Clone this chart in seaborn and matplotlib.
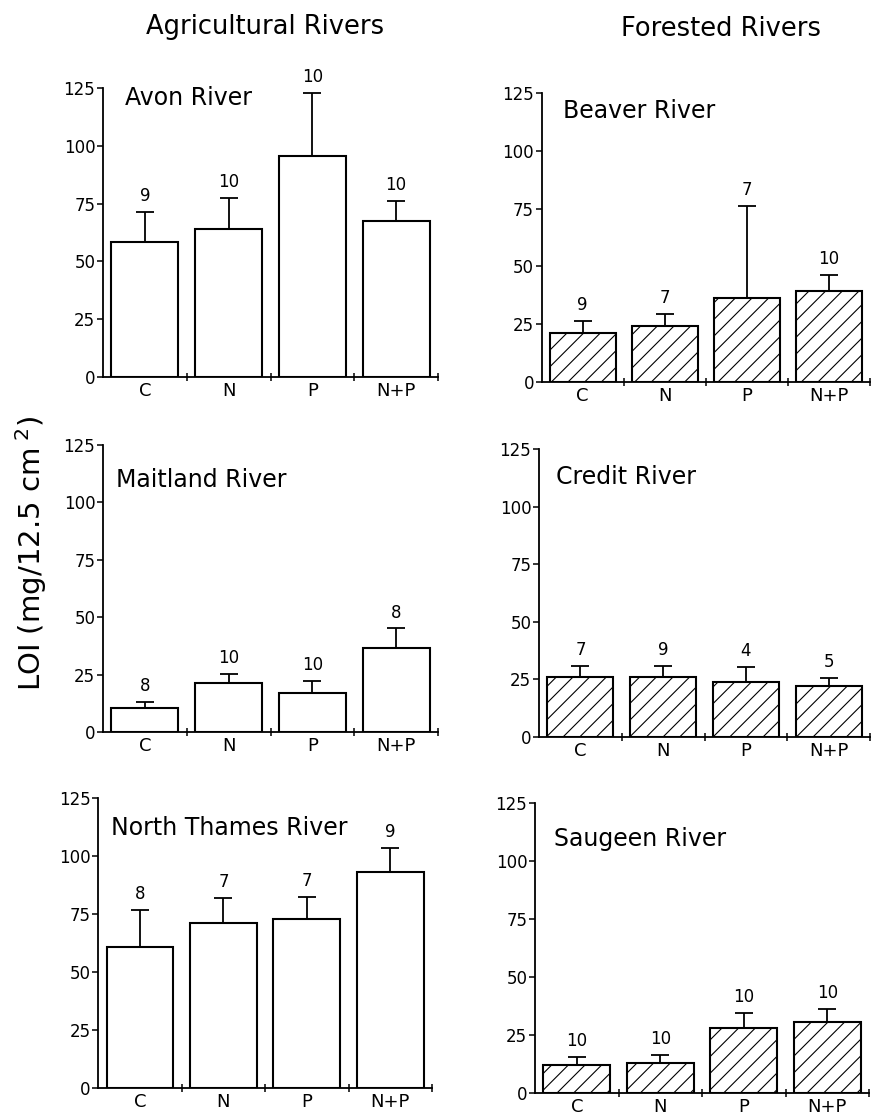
import matplotlib
matplotlib.use("Agg")
import matplotlib.pyplot as plt
import seaborn as sns
import numpy as np
import pandas as pd

# ---------------- data ----------------
treatments = ["C", "N", "P", "N+P"]
rivers = ["Avon River", "Beaver River", "Maitland River",
          "Credit River", "North Thames River", "Saugeen River"]
forested = [False, True, False, True, False, True]

avon_mean = [58.5, 63.9, 95.6, 67.6]
avon_err = [13.0, 13.4, 27.1, 8.7]
avon_n = [9, 10, 10, 10]

beaver_mean = [21.2, 24.3, 36.4, 39.4]
beaver_err = [5.2, 5.0, 39.8, 6.8]
beaver_n = [9, 7, 7, 10]

maitland_mean = [10.3, 21.2, 17.1, 36.7]
maitland_err = [2.9, 4.0, 5.2, 8.4]
maitland_n = [8, 10, 10, 8]

credit_mean = [26.2, 26.0, 24.0, 22.2]
credit_err = [4.7, 4.9, 6.3, 3.6]
credit_n = [7, 9, 4, 5]

nthames_mean = [60.8, 71.1, 73.0, 93.4]
nthames_err = [16.1, 10.8, 9.3, 10.0]
nthames_n = [8, 7, 7, 9]

saugeen_mean = [12.2, 12.9, 28.0, 30.9]
saugeen_err = [3.3, 3.6, 6.5, 5.6]
saugeen_n = [10, 10, 10, 10]

means = [avon_mean, beaver_mean, maitland_mean, credit_mean, nthames_mean, saugeen_mean]
errs = [avon_err, beaver_err, maitland_err, credit_err, nthames_err, saugeen_err]
ns = [avon_n, beaver_n, maitland_n, credit_n, nthames_n, saugeen_n]

yticks = [0, 25, 50, 75, 100, 125]

# ---------------- style ----------------
sns.set_theme(style="ticks")
plt.rcParams['font.family'] = ['DejaVu Sans']
plt.rcParams['hatch.linewidth'] = 0.8
plt.rcParams['hatch.color'] = 'black'

W, H = 872, 1115
fig = plt.figure(figsize=(W / 100, H / 100), dpi=100)
fig.patch.set_facecolor('white')

# axes boxes in pixels: left, right, top, bottom
boxes = [
    (103, 438, 88, 377),
    (541.7, 870, 93.3, 381.7),
    (103, 438, 445, 732),
    (539, 870, 449.3, 737),
    (98.3, 432, 798.3, 1088.3),
    (535, 869, 803.3, 1093.3),
]
title_pos = [(0.066, 0.965), (0.065, 0.939), (0.039, 0.878),
             (0.051, 0.905), (0.037, 0.899), (0.057, 0.877)]

for i, river in enumerate(rivers):
    l, r, t, b = boxes[i]
    ax = fig.add_axes([l / W, 1 - b / H, (r - l) / W, (b - t) / H])
    df = pd.DataFrame({"Treatment": treatments, "LOI": means[i]})
    kw = dict(hatch='//') if forested[i] else {}
    sns.barplot(data=df, x="Treatment", y="LOI", order=treatments,
                color='white', edgecolor='black', linewidth=1.5,
                saturation=1, errorbar=None, width=0.8, ax=ax, **kw)
    for p in ax.patches:
        p.set_facecolor('white')
        p.set_edgecolor('black')
    xs = np.arange(len(treatments))
    ax.errorbar(xs, means[i], yerr=[np.zeros(len(xs)), errs[i]], fmt='none',
                ecolor='black', elinewidth=1.3, capsize=6.5, capthick=1.3, zorder=1)
    for x, m, e, n in zip(xs, means[i], errs[i], ns[i]):
        ax.annotate(str(n), (x, m + e), xytext=(0, 5), textcoords='offset points',
                    ha='center', va='bottom', fontsize=12, color='black',
                    annotation_clip=False)
    ax.set_ylim(0, 125)
    ax.set_xlim(-0.5, 3.5)
    ax.set_yticks(yticks)
    ax.set_yticklabels([str(v) for v in yticks], fontsize=12, color='black')
    ax.set_xticks(xs)
    ax.set_xticklabels(treatments, fontsize=13, color='black')
    ax.set_xticks([0.5, 1.5, 2.5, 3.5], minor=True)
    ax.tick_params(axis='x', which='major', length=0, pad=3.5)
    ax.tick_params(axis='x', which='minor', direction='inout', length=6, width=1.1, color='black')
    ax.tick_params(axis='y', direction='out', length=4, width=1.1, pad=1.5, color='black')
    ax.set_xlabel("")
    ax.set_ylabel("")
    for s in ['top', 'right']:
        ax.spines[s].set_visible(False)
    for s in ['left', 'bottom']:
        ax.spines[s].set_linewidth(1.3)
        ax.spines[s].set_color('black')
    ax.set_facecolor('none')
    tx, ty = title_pos[i]
    ax.text(tx, ty, river, transform=ax.transAxes, ha='left', va='center',
            fontsize=17, color='black')

fig.text(265 / W, 1 - 27 / H, "Agricultural Rivers", ha='center', va='center',
         fontsize=18.5, color='black')
fig.text(721 / W, 1 - 29 / H, "Forested Rivers", ha='center', va='center',
         fontsize=18.5, color='black')
fig.text(31 / W, 1 - 553 / H, "LOI (mg/12.5 cm$^{\\ 2}$)", ha='center', va='center',
         rotation=90, fontsize=21, color='black')

fig.savefig("out.png", dpi=100, facecolor='white')
